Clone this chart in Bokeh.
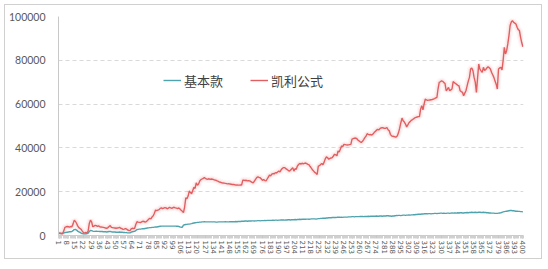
from bokeh.plotting import figure
from bokeh.models import Range1d, FixedTicker, NumeralTickFormatter, Legend, LegendItem
from bokeh.embed import file_html
from bokeh.resources import INLINE
import math

# ---------------- data ----------------
series_names = ["基本款", "凯利公式"]

basic = [
    1000, 900, 900, 1000, 1200, 1300, 1400, 1500, 1600, 1700,
    1700, 1800, 2200, 2700, 2800, 2500, 2000, 1700, 1400, 1100,
    900, 800, 750, 800, 850, 1100, 1900, 2300, 2200, 2000,
    1900, 1900, 2000, 1900, 1900, 1800, 1800, 1800, 1700, 1700,
    1700, 1600, 1700, 1800, 1900, 1700, 1600, 1600, 1600, 1500,
    1500, 1500, 1600, 1500, 1500, 1400, 1400, 1300, 1300, 1200,
    1200, 1200, 1500, 1700, 1800, 1900, 2300, 2700, 2800, 2900,
    2900, 3000, 3100, 3100, 3200, 3300, 3400, 3500, 3600, 3600,
    3700, 3700, 3800, 3900, 3900, 4000, 4100, 4200, 4300, 4300,
    4300, 4300, 4300, 4300, 4300, 4300, 4300, 4300, 4300, 4300,
    4300, 4200, 4200, 4100, 3900, 3800, 3800, 4700, 4900, 5000,
    5100, 5200, 5200, 5300, 5400, 5600, 5700, 5800, 5900, 6000,
    6000, 6100, 6100, 6200, 6200, 6300, 6200, 6200, 6200, 6200,
    6200, 6200, 6200, 6200, 6200, 6100, 6100, 6200, 6200, 6200,
    6200, 6200, 6200, 6300, 6200, 6200, 6200, 6300, 6300, 6300,
    6300, 6300, 6400, 6300, 6400, 6400, 6400, 6500, 6500, 6500,
    6600, 6600, 6500, 6600, 6600, 6600, 6700, 6700, 6600, 6700,
    6700, 6800, 6800, 6700, 6800, 6800, 6800, 6900, 6800, 6900,
    6900, 6900, 6900, 6900, 7000, 6900, 7000, 7000, 6900, 7000,
    7000, 7100, 7100, 7100, 7000, 7100, 7100, 7200, 7200, 7100,
    7200, 7200, 7200, 7300, 7200, 7300, 7300, 7400, 7300, 7400,
    7400, 7500, 7400, 7500, 7500, 7400, 7500, 7600, 7600, 7600,
    7600, 7500, 7600, 7700, 7700, 7800, 7800, 7900, 7900, 7900,
    8000, 8000, 8100, 8100, 8100, 8200, 8200, 8200, 8200, 8300,
    8300, 8300, 8300, 8400, 8300, 8400, 8400, 8400, 8400, 8500,
    8500, 8500, 8600, 8600, 8500, 8600, 8600, 8600, 8600, 8700,
    8700, 8700, 8600, 8700, 8700, 8700, 8800, 8700, 8800, 8800,
    8800, 8800, 8800, 8900, 8800, 8800, 8900, 8900, 8800, 8900,
    8900, 8900, 9000, 9000, 8900, 8900, 8800, 8900, 8900, 9000,
    9100, 9100, 9200, 9200, 9100, 9200, 9300, 9300, 9200, 9300,
    9300, 9400, 9300, 9400, 9400, 9500, 9500, 9600, 9600, 9700,
    9700, 9700, 9800, 9800, 9900, 9900, 9900, 9900, 10000, 10000,
    9900, 10000, 10000, 10100, 10100, 10000, 10100, 10100, 10200, 10200,
    10100, 10200, 10100, 10100, 10200, 10200, 10100, 10200, 10300, 10200,
    10300, 10300, 10200, 10400, 10300, 10400, 10400, 10300, 10300, 10400,
    10400, 10500, 10400, 10500, 10500, 10600, 10500, 10500, 10600, 10500,
    10500, 10600, 10600, 10500, 10500, 10600, 10500, 10500, 10400, 10400,
    10300, 10300, 10200, 10200, 10200, 10100, 10100, 10100, 10200, 10300,
    10400, 10600, 10800, 10900, 11000, 11100, 11200, 11300, 11400, 11400,
    11300, 11300, 11200, 11100, 11100, 11000, 11000, 10900, 10900, 10800,
]

kelly = [
    1200, 1100, 900, 800, 2000, 3700, 3900, 4100, 4000, 3800,
    4100, 4000, 5200, 6900, 6500, 5600, 4400, 3600, 3200, 2800,
    2000, 1300, 1200, 1400, 1200, 2000, 5500, 7000, 6200, 4000,
    4300, 4600, 4500, 4200, 4400, 4000, 3900, 3800, 3700, 3600,
    3400, 3300, 3600, 4100, 4500, 3700, 3600, 3500, 3400, 3300,
    3400, 3500, 3700, 3300, 3100, 2800, 2900, 3100, 3000, 2500,
    2300, 2200, 3000, 3300, 3200, 3300, 5000, 6300, 6100, 6000,
    5900, 6200, 6500, 6400, 6100, 6300, 6800, 7400, 7800, 7600,
    8500, 9000, 10200, 11600, 11400, 11600, 11800, 12400, 12600, 12300,
    12500, 12700, 12600, 12200, 12500, 12800, 12600, 12400, 12700, 12900,
    12600, 12500, 12300, 12600, 12100, 11500, 11100, 10500, 13000, 17200,
    16800, 18000, 20300, 19600, 19000, 20500, 22000, 21500, 24000, 23000,
    23500, 24900, 25500, 25800, 26100, 26400, 26000, 25800, 25700, 25900,
    25600, 25800, 25700, 25500, 25300, 25200, 24900, 24700, 24400, 24300,
    24100, 24000, 23900, 23800, 23700, 23600, 23700, 23500, 23400, 23300,
    23300, 23200, 23000, 23100, 23000, 23000, 23100, 23000, 25200, 25300,
    25100, 25200, 24900, 25100, 24900, 24600, 24300, 24000, 24800, 25600,
    26400, 26800, 26500, 26400, 25800, 25200, 25500, 25100, 24900, 25800,
    26700, 27600, 27200, 28000, 28300, 28100, 28700, 28500, 29000, 29400,
    29100, 30000, 30600, 31000, 31000, 30500, 30200, 29800, 29400, 29800,
    30400, 31000, 29400, 30500, 30200, 31700, 32400, 32900, 32600, 33000,
    32700, 32900, 33100, 32800, 32500, 32300, 31500, 30800, 30000, 29400,
    28800, 28400, 27900, 31700, 31900, 32400, 32900, 32300, 33500, 35000,
    35900, 35500, 34800, 35200, 35400, 35600, 36300, 37100, 36800, 36400,
    38600, 38100, 39500, 40900, 40500, 41600, 41500, 41400, 41300, 41400,
    41500, 41600, 44000, 44200, 44400, 44500, 44300, 43600, 43200, 42800,
    42500, 43000, 43800, 44700, 45300, 46500, 46200, 46000, 46100, 45900,
    46300, 47000, 47500, 48000, 48500, 48200, 48800, 49100, 49300, 49100,
    48900, 49000, 49300, 48300, 47800, 46200, 45500, 45300, 45200, 45000,
    45000, 45500, 47000, 49000, 51500, 53600, 52400, 51800, 50900, 49600,
    50500, 51500, 52000, 52600, 52900, 53300, 53700, 53900, 54100, 54300,
    54300, 57700, 59300, 57400, 60000, 62300, 61900, 61700, 61800, 61900,
    62000, 62100, 62300, 62500, 62800, 63000, 67000, 69900, 70200, 70600,
    70400, 69800, 69400, 66100, 66800, 67600, 66100, 66500, 66900, 70300,
    69800, 69400, 69000, 68600, 68300, 66100, 65700, 65400, 63800, 65000,
    66100, 68300, 70500, 72200, 76000, 76500, 75300, 72200, 70000, 65300,
    72000, 78300, 76000, 75200, 74500, 76800, 75300, 75800, 76500, 77100,
    76600, 76000, 74500, 73400, 72200, 70500, 69100, 66900, 76000, 76500,
    76800, 75600, 80000, 85900, 82900, 84400, 87500, 91300, 95900, 97500,
    98100, 97300, 97000, 96600, 95100, 94000, 93600, 90500, 88000, 86200,
]

periods = list(range(1, len(kelly) + 1))
x_tick_values = list(range(1, 401, 7))
y_tick_values = [0, 20000, 40000, 60000, 80000, 100000]

teal = "#4fa3ad"
red = "#e25f61"
label_color = "#595959"

# ---------------- figure ----------------
p = figure(
    width=536, height=253,
    output_backend="svg", toolbar_location=None,
    x_range=Range1d(0.5, 400.5), y_range=Range1d(0, 100000),
    min_border_left=53, min_border_top=11, min_border_right=18, min_border_bottom=23,
)
p.margin = (5, 0, 0, 5)
p.styles = {"box-shadow": "0 0 0 1px #d0d0d0"}
p.outline_line_color = None
p.background_fill_color = "white"
p.border_fill_color = "white"

# axes
p.xaxis.ticker = FixedTicker(ticks=x_tick_values, minor_ticks=[v + 0.5 for v in range(0, 401)])
p.xaxis.major_label_orientation = -math.pi / 2
p.xaxis.major_label_text_font = "DejaVu Sans"
p.xaxis.major_label_text_font_size = "7px"
p.xaxis.major_label_text_color = label_color
p.xaxis.major_label_standoff = 2
p.xaxis.axis_line_color = "#c8c8c8"
p.xaxis.major_tick_line_color = "#c8c8c8"
p.xaxis.minor_tick_line_color = "#d0d0d0"
p.xaxis.major_tick_out = 3
p.xaxis.major_tick_in = 0
p.xaxis.minor_tick_out = 3
p.xaxis.minor_tick_in = 0

p.yaxis.ticker = FixedTicker(ticks=y_tick_values)
p.yaxis.formatter = NumeralTickFormatter(format="0")
p.yaxis.major_label_text_font = "Lato"
p.yaxis.major_label_text_font_size = "10.5px"
p.yaxis.major_label_text_color = label_color
p.yaxis.axis_line_color = "#c8c8c8"
p.yaxis.major_tick_line_color = None
p.yaxis.minor_tick_line_color = None
p.yaxis.major_label_standoff = 7

p.xgrid.grid_line_color = None
p.ygrid.grid_line_color = "#d9d9d9"
p.ygrid.grid_line_dash = "4 3"
p.ygrid.grid_line_width = 1

# soft glow under the red line
p.line(periods, kelly, line_color=red, line_width=7, line_alpha=0.06)
p.line(periods, kelly, line_color=red, line_width=4, line_alpha=0.10)

r_basic = p.line(periods, basic, line_color=teal, line_width=1.4)
r_kelly = p.line(periods, kelly, line_color=red, line_width=1.4)

legend = Legend(
    items=[LegendItem(label=series_names[0], renderers=[r_basic]),
           LegendItem(label=series_names[1], renderers=[r_kelly])],
    orientation="horizontal",
    location=(105, 145),
    label_text_font="Noto Sans CJK SC",
    label_text_font_size="13px",
    label_text_color="#404040",
    glyph_width=18,
    label_standoff=3,
    spacing=27,
    padding=0,
    margin=0,
    border_line_color=None,
    background_fill_alpha=0,
)
p.add_layout(legend)

open("out.html", "w").write(file_html(p, INLINE))
